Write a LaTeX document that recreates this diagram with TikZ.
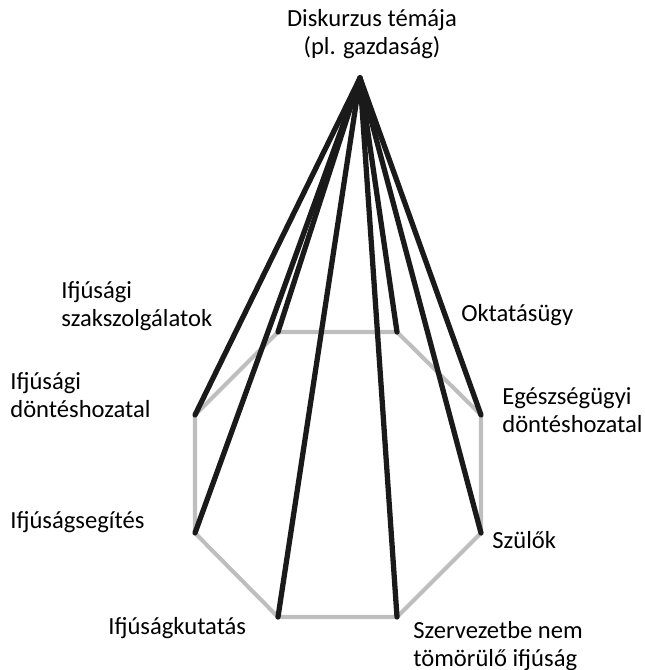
\documentclass[tikz,border=0pt]{standalone}
\usepackage{fontspec}
\setmainfont{Carlito}
\definecolor{edgegray}{RGB}{190, 190, 190}
\definecolor{spokeblack}{RGB}{26, 26, 26}
\usepackage{tikz}

\begin{document}
\begin{tikzpicture}[x=0.02cm, y=-0.02cm,
    every node/.style={inner sep=0pt, font=\fontsize{14}{16}\selectfont},
    lbl/.style={anchor=west, align=left},
    rim/.style={edgegray, line width=2.3pt, line join=round},
    spoke/.style={spokeblack, line width=3pt, line cap=round}]
        \useasboundingbox (0,0) rectangle (645,670);

        % Apex and its label
        \node[align=center] (tema) at (372,34) {Diskurzus témája\\(pl. gazdaság)};
        \coordinate (csucs) at (360,78);

        % Corners of the octagon
        \coordinate (szak) at (278,332);
        \coordinate (okt) at (397,332);
        \coordinate (egesz) at (481,415);
        \coordinate (szulo) at (481,533);
        \coordinate (szerv) at (397,617);
        \coordinate (kut) at (278,617);
        \coordinate (seg) at (195,533);
        \coordinate (dont) at (195,415);

        % Gray octagon
        \draw[rim] (szak) -- (okt) -- (egesz) -- (szulo) -- (szerv) -- (kut) -- (seg) -- (dont) -- cycle;

        % Black spokes from the apex
        \foreach \c in {szak, okt, egesz, szulo, szerv, kut, seg, dont}
          \draw[spoke] (csucs) -- (\c);

        % Labels
        \node[lbl] (lszak) at (61,306) {Ifjúsági\\szakszolgálatok};
        \node[lbl] (ldont) at (10,395) {Ifjúsági\\döntéshozatal};
        \node[lbl] (lseg) at (10,522) {Ifjúságsegítés};
        \node[lbl] (lkut) at (108,628) {Ifjúságkutatás};
        \node[lbl] (lszerv) at (413,646) {Szervezetbe nem\\tömörülő ifjúság};
        \node[lbl] (lszulo) at (492,540) {Szülők};
        \node[lbl] (legesz) at (502,410) {Egészségügyi\\döntéshozatal};
        \node[lbl] (lokt) at (461,315) {Oktatásügy};
      \end{tikzpicture}
\end{document}
